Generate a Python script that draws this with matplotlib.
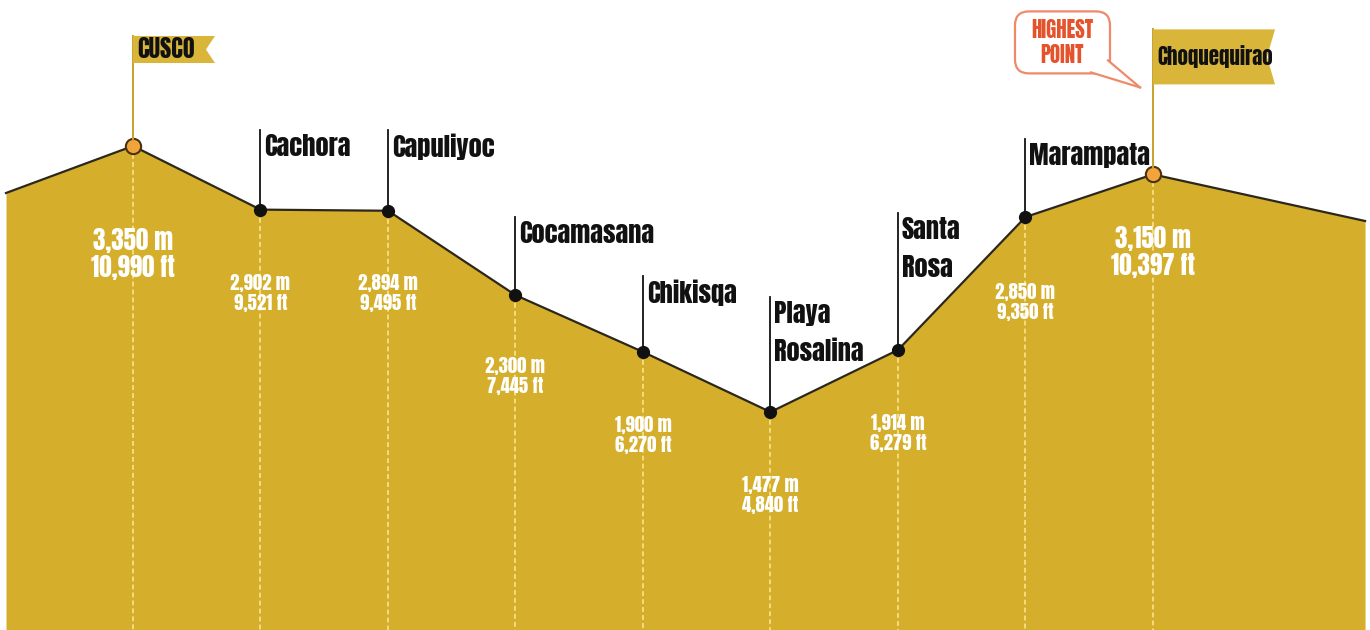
import matplotlib
matplotlib.use('Agg')
import matplotlib.pyplot as plt
from matplotlib.patches import Polygon, FancyBboxPatch
from matplotlib import font_manager as fm
import numpy as np

# ---------------- data ----------------
names = ['CUSCO', 'Cachora', 'Capuliyoc', 'Cocamasana', 'Chikisqa',
         'Playa\nRosalina', 'Santa\nRosa', 'Marampata', 'Choquequirao']
elev_m = [3350, 2902, 2894, 2300, 1900, 1477, 1914, 2850, 3150]
elev_ft = [10990, 9521, 9495, 7445, 6270, 4840, 6279, 9350, 10397]
profile_start_m = 3019
profile_end_m = 2822
flag_stops = [0, 8]
callout = 'HIGHEST\nPOINT'

# ---------------- style / layout ----------------
W, H = 1370, 630
FILL = '#D5AE2B'
FLAG = '#D9B53A'
POLE = '#C9A12B'
DOT = '#F4DD7E'

_avail = {f.name for f in fm.fontManager.ttflist}
if 'Anton' in _avail:
    TXT = dict(family=['Anton', 'DejaVu Sans'], fontweight='normal')
    SC = 1.0
else:
    TXT = dict(family=['DejaVu Sans'], fontstretch='condensed', fontweight='bold')
    SC = 0.85

x0, x1 = -1.0431, 9.702
y0, y1 = -58, 4378
xs_start, xs_end = -0.996, 9.663
sx = (x1 - x0) / W
sy = (y1 - y0) / H

fig = plt.figure(figsize=(W / 100, H / 100), dpi=100)
ax = fig.add_axes([0, 0, 1, 1])
ax.set_xlim(x0, x1)
ax.set_ylim(y0, y1)
ax.axis('off')

deco = fig.add_axes([0, 0, 1, 1])
deco.set_xlim(0, W)
deco.set_ylim(H, 0)
deco.axis('off')
deco.patch.set_alpha(0)


def to_px(x, y):
    return (x - x0) / sx, (y1 - y) / sy


stops = np.arange(len(names))
xs = np.concatenate([[xs_start], stops, [xs_end]])
ys = np.concatenate([[profile_start_m], elev_m, [profile_end_m]])

ax.fill_between(xs, ys, y0, color=FILL, lw=0, zorder=1)
ax.plot(xs, ys, color='#2b271b', lw=1.6, zorder=3)

for i, e in zip(stops, elev_m):
    ax.plot([i, i], [e, y0], color=DOT, lw=1.4, ls=(0, (2.5, 1.6)), zorder=2)

normal = [i for i in stops if i not in flag_stops]
ax.plot([stops[i] for i in normal], [elev_m[i] for i in normal], 'o',
        color='#111111', ms=8.5, zorder=5)
ax.plot([stops[i] for i in flag_stops], [elev_m[i] for i in flag_stops], 'o',
        mfc='#F2A43C', mec='#4a3210', mew=1.5, ms=11, zorder=5)

# elevation labels
label_drop = [95, 73, 72, 71, 73, 73, 73, 75, 64]
for i, (m, ft) in enumerate(zip(elev_m, elev_ft)):
    px, py = to_px(stops[i], m)
    big = i in flag_stops
    fs = (18 if big else 13.5) * SC
    gap = 27 if big else 20
    d = label_drop[i]
    deco.text(px, py + d, f'{m:,} m', ha='center', va='center', color='white',
              fontsize=fs, zorder=6, **TXT)
    deco.text(px, py + d + gap, f'{ft:,} ft', ha='center', va='center', color='white',
              fontsize=fs, zorder=6, **TXT)

# name labels with leader lines
label_rise = {1: 80, 2: 81, 3: 78, 4: 76, 5: 115, 6: 137, 7: 78}
for i in normal:
    px, py = to_px(stops[i], elev_m[i])
    r = label_rise[i]
    deco.plot([px, px], [py, py - r], color='#111111', lw=1.3, zorder=4)
    deco.text(px + 4, py - r + 4, names[i], ha='left', va='top', color='#111111',
              fontsize=19 * SC, linespacing=1.58, zorder=6, **TXT)

# flags
flag_geom = {0: dict(pole=110, fw=82, fh=27, nd=9, fs=17.5),
             8: dict(pole=145, fw=122, fh=55, nd=8, fs=15)}
for i in flag_stops:
    g = flag_geom[i]
    px, py = to_px(stops[i], elev_m[i])
    top = py - g['pole']
    deco.plot([px, px], [py - 6, top], color=POLE, lw=1.4, zorder=3)
    left, right, bot = px, px + g['fw'], top + g['fh']
    poly = Polygon([(left, top), (right, top), (right - g['nd'], (top + bot) / 2),
                    (right, bot), (left, bot)], closed=True, fc=FLAG, ec='none', zorder=4)
    deco.add_patch(poly)
    deco.text(left + 4, (top + bot) / 2, names[i], ha='left', va='center',
              color='#111111', fontsize=g['fs'] * SC, zorder=6, **TXT)

# speech bubble
cx, cy = to_px(stops[8], elev_m[8])
BUB = '#EE8A68'
box = FancyBboxPatch((cx - 138, cy - 163), 95, 62,
                     boxstyle='round,pad=0,rounding_size=14',
                     fc='white', ec=BUB, lw=1.6, zorder=7)
deco.add_patch(box)
A = (cx - 62, cy - 102)
B = (cx - 45, cy - 114)
T = (cx - 13, cy - 87)
deco.add_patch(Polygon([A, B, T], closed=True, fc='white', ec='none', zorder=8))
deco.plot([A[0], T[0]], [A[1], T[1]], color=BUB, lw=1.6, zorder=9)
deco.plot([B[0], T[0]], [B[1], T[1]], color=BUB, lw=1.6, zorder=9)
deco.text(cx - 91, cy - 132, callout, ha='center', va='center', color='#E5532D',
          fontsize=15 * SC, linespacing=1.2, zorder=10, **TXT)

fig.savefig('out.png', dpi=100)
